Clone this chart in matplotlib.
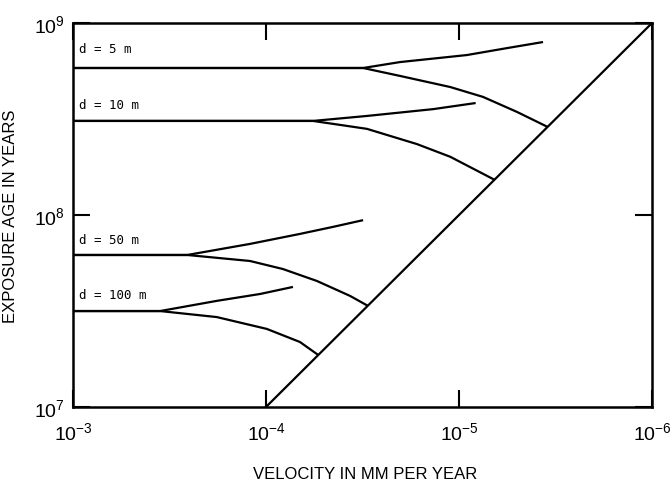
import matplotlib
matplotlib.use("Agg")
import matplotlib.pyplot as plt
from matplotlib.ticker import NullLocator, FixedLocator

# velocity (mm/yr) and exposure age (yr)
labels = ["d = 5 m", "d = 10 m", "d = 50 m", "d = 100 m"]
label_ages = [7.4e8, 3.75e8, 7.45e7, 3.85e7]

upper_v = [
    [1e-3, 3.14e-5, 2.02e-5, 9.1e-6, 5.6e-6, 3.67e-6],
    [1e-3, 5.71e-5, 3.00e-5, 1.36e-5, 8.2e-6],
    [1e-3, 2.56e-4, 1.21e-4, 6.67e-5, 4.50e-5, 3.14e-5],
    [1e-3, 3.54e-4, 1.80e-4, 1.07e-4, 7.25e-5],
]
upper_age = [
    [5.83e8, 5.83e8, 6.26e8, 6.81e8, 7.41e8, 7.96e8],
    [3.09e8, 3.09e8, 3.28e8, 3.56e8, 3.83e8],
    [6.19e7, 6.19e7, 7.07e7, 7.97e7, 8.67e7, 9.4e7],
    [3.16e7, 3.16e7, 3.57e7, 3.88e7, 4.22e7],
]
lower_v = [
    [1e-3, 3.14e-5, 2.02e-5, 1.11e-5, 7.5e-6, 5.0e-6, 3.46e-6],
    [1e-3, 5.71e-5, 3.00e-5, 1.65e-5, 1.11e-5, 6.5e-6],
    [1e-3, 2.56e-4, 1.21e-4, 8.17e-5, 5.44e-5, 3.67e-5, 2.96e-5],
    [1e-3, 3.54e-4, 1.80e-4, 9.9e-5, 6.67e-5, 5.38e-5],
]
lower_age = [
    [5.83e8, 5.83e8, 5.30e8, 4.64e8, 4.12e8, 3.44e8, 2.87e8],
    [3.09e8, 3.09e8, 2.81e8, 2.34e8, 2.01e8, 1.52e8],
    [6.19e7, 6.19e7, 5.76e7, 5.23e7, 4.53e7, 3.79e7, 3.36e7],
    [3.16e7, 3.16e7, 2.94e7, 2.55e7, 2.18e7, 1.87e7],
]

# steady-state limit line
limit_v = [1e-4, 1e-6]
limit_age = [1e7, 1e9]

x_ticks = [1e-3, 1e-4, 1e-5, 1e-6]
x_ticklabels = [r"$10^{-3}$", r"$10^{-4}$", r"$10^{-5}$", r"$10^{-6}$"]
y_ticks = [1e7, 1e8, 1e9]
y_ticklabels = [r"$10^{7}$", r"$10^{8}$", r"$10^{9}$"]

plt.rcParams["font.family"] = ["Liberation Sans", "DejaVu Sans"]
plt.rcParams["mathtext.fontset"] = "custom"
plt.rcParams["mathtext.rm"] = "Liberation Sans"
plt.rcParams["mathtext.it"] = "Liberation Sans"

fig = plt.figure(figsize=(6.71, 4.85), dpi=100)
ax = fig.add_axes([0.1088, 0.1588, 0.8629, 0.7917])
ax.set_xscale("log")
ax.set_yscale("log")

lw = 1.6
for xs, ys in zip(upper_v, upper_age):
    ax.plot(xs, ys, color="black", lw=lw, solid_capstyle="butt")
for xs, ys in zip(lower_v, lower_age):
    ax.plot(xs, ys, color="black", lw=lw, solid_capstyle="butt")
ax.plot(limit_v, limit_age, color="black", lw=lw)

for lab, age in zip(labels, label_ages):
    ax.text(9.3e-4, age, lab, fontsize=9, family="DejaVu Sans Mono",
            ha="left", va="center")

ax.set_xlim(1e-3, 1e-6)
ax.set_ylim(1e7, 1e9)

ax.xaxis.set_major_locator(FixedLocator(x_ticks))
ax.yaxis.set_major_locator(FixedLocator(y_ticks))
ax.xaxis.set_minor_locator(NullLocator())
ax.yaxis.set_minor_locator(NullLocator())
ax.set_xticklabels(x_ticklabels)
ax.set_yticklabels(y_ticklabels)
ax.tick_params(which="major", direction="in", length=12, width=1.5,
               top=True, right=True, labelsize=14)
ax.tick_params(axis="x", pad=10)
ax.tick_params(axis="y", pad=6)

for sp in ax.spines.values():
    sp.set_linewidth(1.8)

ax.set_xlabel("VELOCITY IN MM PER YEAR", fontsize=12)
ax.set_ylabel("EXPOSURE AGE IN YEARS", fontsize=12)
ax.xaxis.set_label_coords(0.505, -0.155)
ax.yaxis.set_label_coords(-0.095, 0.5)

fig.savefig("out.png", dpi=100)
